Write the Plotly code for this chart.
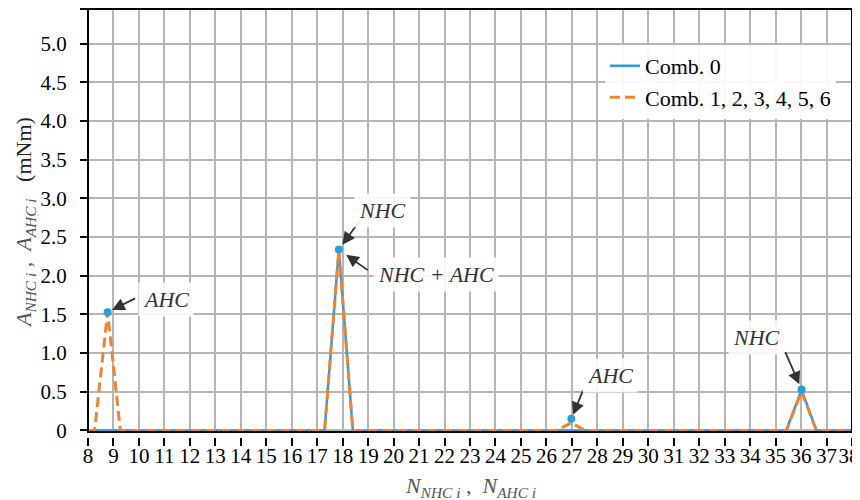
import plotly.graph_objects as go

# ---------------- data ----------------
# Comb. 0 (solid blue)
comb0_x = [8, 17.29, 17.85, 18.40, 35.42, 36.02, 36.60, 38]
comb0_y = [0, 0, 2.34, 0, 0, 0.53, 0, 0]

# Comb. 1, 2, 3, 4, 5, 6 (dashed orange)
comb16_x = [8, 8.26, 8.77, 9.27, 17.29, 17.85, 18.40, 26.39, 26.98, 27.50, 35.42, 36.02, 36.60, 38]
comb16_y = [0, 0, 1.53, 0, 0, 2.33, 0, 0, 0.10, 0, 0, 0.50, 0, 0]

# highlighted points
mark_x = [8.77, 17.85, 26.98, 36.02]
mark_y = [1.53, 2.34, 0.15, 0.53]

# annotation labels and the point each one refers to
ann_labels = ["AHC", "NHC", "NHC + AHC", "AHC", "NHC"]
ann_point = [0, 1, 1, 2, 3]

x_tickvals = [8, 9, 10, 11, 12, 13, 14, 15, 16, 17, 18, 19, 20, 21, 22, 23,
              24, 25, 26, 27, 28, 29, 30, 31, 32, 33, 34, 35, 36, 37, 38]
x_ticktext = ["8", "9", "10", "11", "12", "13", "14", "15", "16", "17", "18",
              "19", "20", "21", "22", "23", "24", "25", "26", "27", "28", "29",
              "30", "31", "32", "33", "34", "35", "36", "37", ""]
# last label drawn on its own overlay axis so it can be nudged inside the page
x_last_tickval = [38]
x_last_ticktext = ["38"]
y_tickvals = [0, 0.5, 1.0, 1.5, 2.0, 2.5, 3.0, 3.5, 4.0, 4.5, 5.0, 5.45]
y_ticktext = ["0", "0.5", "1.0", "1.5", "2.0", "2.5", "3.0", "3.5", "4.0", "4.5", "5.0", ""]

x_title = "<i>N</i><sub><i>NHC i</i></sub> ,  <i>N</i><sub><i>AHC i</i></sub>"
y_title = ("<span style='color:#555555'><i>A</i><sub><i>NHC i</i></sub> ,  "
           "<i>A</i><sub><i>AHC i</i></sub></span>   (mNm)")

# ---------------- style ----------------
BLUE = "#2d9cdb"
ORANGE = "#ee8433"
FONT = "Liberation Serif, Times New Roman, serif"
FS = 22
TFS = 21
GRID = "#b5b5b5"

# text offsets (px, relative to the point) and arrow tails / standoff
text_shift = [(58.7, 13), (44, 38.7), (97, -25.3), (38.3, 43.3), (-44.7, 52)]
arrow_tail = [(28, -14), (21, -29), (29.3, 21), (12.3, -30), (-16.7, -38.3)]
arrow_standoff = [5, 6, 9, 4.5, 5.7]

fig = go.Figure()

fig.add_trace(go.Scatter(
    x=comb0_x, y=comb0_y, mode="lines", name="Comb. 0",
    line=dict(color=BLUE, width=2.5)))
fig.add_trace(go.Scatter(
    x=comb16_x, y=comb16_y, mode="lines", name="Comb. 1, 2, 3, 4, 5, 6",
    line=dict(color=ORANGE, width=3, dash="10px,5px")))
fig.add_trace(go.Scatter(
    x=mark_x, y=mark_y, mode="markers", showlegend=False,
    marker=dict(color=BLUE, size=8), cliponaxis=False))
# empty helper trace so the overlay axis carrying the "38" label is drawn
fig.add_trace(go.Scatter(
    x=x_last_tickval, y=[None], xaxis="x2", yaxis="y", mode="lines",
    showlegend=False, hoverinfo="skip"))

annotations = []
for lab, pi, (sx, sy), (tx, ty), so in zip(ann_labels, ann_point, text_shift,
                                           arrow_tail, arrow_standoff):
    px, py = mark_x[pi], mark_y[pi]
    annotations.append(dict(
        x=px, y=py, xref="x", yref="y", text=" ",
        showarrow=True, ax=tx, ay=ty, standoff=so,
        font=dict(size=1), borderpad=0,
        arrowhead=2, arrowsize=1.4, arrowwidth=1.8, arrowcolor="#333333"))
    annotations.append(dict(
        x=px, y=py, xref="x", yref="y", text="<i>%s</i>" % lab,
        showarrow=False, xshift=sx, yshift=sy,
        xanchor="center", yanchor="middle",
        font=dict(family=FONT, size=FS, color="#333333"),
        bgcolor="rgba(255,255,255,0.88)", borderpad=4))

# axis titles
annotations.append(dict(
    x=0.5, y=0, xref="paper", yref="paper", text=x_title, showarrow=False,
    xanchor="center", yanchor="middle", yshift=-50,
    font=dict(family=FONT, size=FS, color="#555555")))
annotations.append(dict(
    x=0, y=0.5, xref="paper", yref="paper", text=y_title, showarrow=False,
    xanchor="center", yanchor="middle", xshift=-63, textangle=-90,
    font=dict(family=FONT, size=FS, color="#222222")))

# the page adds an 8px body margin, so the figure is 8px smaller
W, H = 852, 492
ML, MR, MT, MB = 80, 8, 1, 63
pad_bottom = 5  # gap between frame and x tick marks
plot_h = H - MT - MB

xaxis_common = dict(
    range=[8, 38], tickmode="array", tickangle=0,
    zeroline=False, showline=False, automargin=False,
    anchor="free", position=0,
    ticks="outside", ticklen=8, tickwidth=1.5,
    ticklabelstandoff=-8, ticklabeloverflow="allow",
    tickfont=dict(family=FONT, size=TFS, color="black"),
)

fig.update_layout(
    width=W, height=H,
    margin=dict(l=ML, r=MR, t=MT, b=MB),
    paper_bgcolor="white", plot_bgcolor="white",
    font=dict(family=FONT, size=FS, color="black"),
    xaxis=dict(
        xaxis_common, tickvals=x_tickvals, ticktext=x_ticktext,
        showgrid=True, gridcolor=GRID, gridwidth=1.5, tickcolor="black",
    ),
    xaxis2=dict(
        xaxis_common, tickvals=x_last_tickval, ticktext=x_last_ticktext,
        overlaying="x", matches="x", showgrid=False,
        tickcolor="rgba(0,0,0,0)", ticklabelshift=-3,
    ),
    yaxis=dict(
        range=[-0.02, 5.45], domain=[pad_bottom / plot_h, 1],
        tickmode="array", tickvals=y_tickvals, ticktext=y_ticktext,
        showgrid=True, gridcolor=GRID, gridwidth=1.5,
        showline=False, zeroline=False, automargin=False,
        ticks="outside", ticklen=7, tickwidth=1.5, tickcolor="black",
        ticklabelstandoff=9,
        tickfont=dict(family=FONT, size=TFS, color="black"),
    ),
    legend=dict(
        x=0.979, xanchor="right", y=0.916, yanchor="top",
        bgcolor="rgba(255,255,255,0.92)", borderwidth=0,
        font=dict(family=FONT, size=FS, color="black"),
        tracegroupgap=0),
    annotations=annotations,
    shapes=[dict(type="rect", xref="x domain", yref="y domain",
                 x0=0, x1=1, y0=0, y1=1,
                 line=dict(color="black", width=2), layer="above")],
)

fig.write_html("out.html")
